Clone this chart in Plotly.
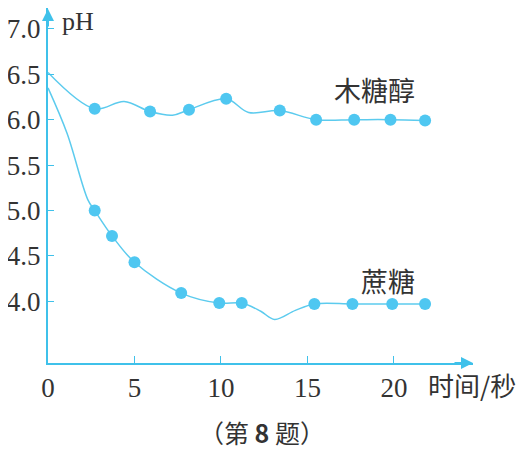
import plotly.graph_objects as go

# 木糖醇 (xylitol): measured points and curve guide points
xyl_x = [2.7, 5.9, 8.15, 10.3, 13.4, 15.5, 17.7, 19.8, 21.8]
xyl_y = [6.12, 6.09, 6.11, 6.23, 6.10, 6.00, 6.00, 6.00, 5.99]
xyl_curve_x = [0, 2.7, 4.4, 5.9, 7.2, 8.15, 10.3, 11.6, 13.4, 15.5, 17.7, 19.8, 21.8]
xyl_curve_y = [6.52, 6.12, 6.2, 6.09, 6.05, 6.11, 6.23, 6.08, 6.10, 6.00, 6.00, 6.00, 5.99]

# 蔗糖 (sucrose)
suc_x = [2.7, 3.7, 5.0, 7.7, 9.9, 11.2, 15.4, 17.6, 19.9, 21.8]
suc_y = [5.0, 4.72, 4.43, 4.09, 3.98, 3.98, 3.97, 3.97, 3.97, 3.97]
suc_curve_x = [0, 1.1, 2.3, 2.7, 3.7, 5.0, 7.7, 9.9, 11.2, 12.3, 13.1, 14.3, 15.4, 17.6, 19.9, 21.8]
suc_curve_y = [6.35, 5.85, 5.12, 5.0, 4.72, 4.43, 4.09, 3.98, 3.98, 3.89, 3.80, 3.90, 3.97, 3.97, 3.97, 3.97]

x_ticks = [0, 5, 10, 15, 20]
y_ticks = [4.0, 4.5, 5.0, 5.5, 6.0, 6.5, 7.0]

line_col = "#5ccbee"
dot_col = "#4fc7f1"
axis_col = "#3fc1ea"
text_col = "#333333"
serif = "Liberation Serif"
cjk = "Noto Sans CJK SC"

fig = go.Figure()
for cx, cy in [(xyl_curve_x, xyl_curve_y), (suc_curve_x, suc_curve_y)]:
    fig.add_trace(go.Scatter(x=cx, y=cy, mode="lines",
                             line=dict(color=line_col, width=1.5, shape="spline", smoothing=1.0),
                             hoverinfo="skip"))
for px, py in [(xyl_x, xyl_y), (suc_x, suc_y)]:
    fig.add_trace(go.Scatter(x=px, y=py, mode="markers",
                             marker=dict(color=dot_col, size=12)))

fig.update_xaxes(range=[0, 24.57], tickvals=x_ticks, ticktext=[str(v) for v in x_ticks],
                 showgrid=False, zeroline=False, showline=True, linecolor=axis_col, linewidth=2,
                 ticks="inside", ticklen=7, tickcolor=axis_col, tickwidth=1, automargin=False,
                 tickfont=dict(family=serif, size=27, color=text_col))
fig.update_yaxes(range=[3.32, 7.23], tickvals=y_ticks, ticktext=[f"{v:.1f}" for v in y_ticks],
                 showgrid=False, zeroline=False, showline=True, linecolor=axis_col, linewidth=2,
                 ticks="inside", ticklen=6, tickcolor=axis_col, tickwidth=1, automargin=False,
                 tickfont=dict(family=serif, size=27, color=text_col))

# plot area spans page y 8..363 (355 px)
annos = [
    # axis arrows
    dict(x=0, y=1.0, xref="paper", yref="paper", ax=0, ay=20, showarrow=True, text="",
         arrowhead=2, arrowsize=1.2, arrowwidth=2, arrowcolor=axis_col),
    dict(x=1.0, y=0, xref="paper", yref="paper", ax=-20, ay=0, showarrow=True, text="",
         arrowhead=2, arrowsize=1.2, arrowwidth=2, arrowcolor=axis_col),
    dict(x=0.028, y=(363 - 22) / 355, xref="paper", yref="paper", text="pH", showarrow=False,
         xanchor="left", yanchor="middle", font=dict(family=serif, size=26, color=text_col)),
    dict(x=18.9, y=6.33, text="木糖醇", showarrow=False, xanchor="center", yanchor="middle",
         font=dict(family=cjk, size=27, color=text_col)),
    dict(x=19.65, y=4.23, text="蔗糖", showarrow=False, xanchor="center", yanchor="middle",
         font=dict(family=cjk, size=27, color=text_col)),
    dict(x=(426 - 48) / 425, y=(363 - 385) / 355, xref="paper", yref="paper", text="时间/秒",
         showarrow=False, xanchor="left", yanchor="middle",
         font=dict(family=cjk, size=26, color=text_col)),
    dict(x=(262 - 48) / 425, y=(363 - 432) / 355, xref="paper", yref="paper",
         text="（第 <b>8</b> 题）",
         showarrow=False, xanchor="center", yanchor="middle",
         font=dict(family=cjk, size=25, color=text_col)),
]
fig.update_layout(annotations=annos)

# page body adds an 8px offset, so the figure is 8px smaller and shifted
fig.update_layout(width=518, height=446, margin=dict(l=40, r=53, t=0, b=91),
                  paper_bgcolor="white", plot_bgcolor="white", showlegend=False)

fig.write_html("out.html")
